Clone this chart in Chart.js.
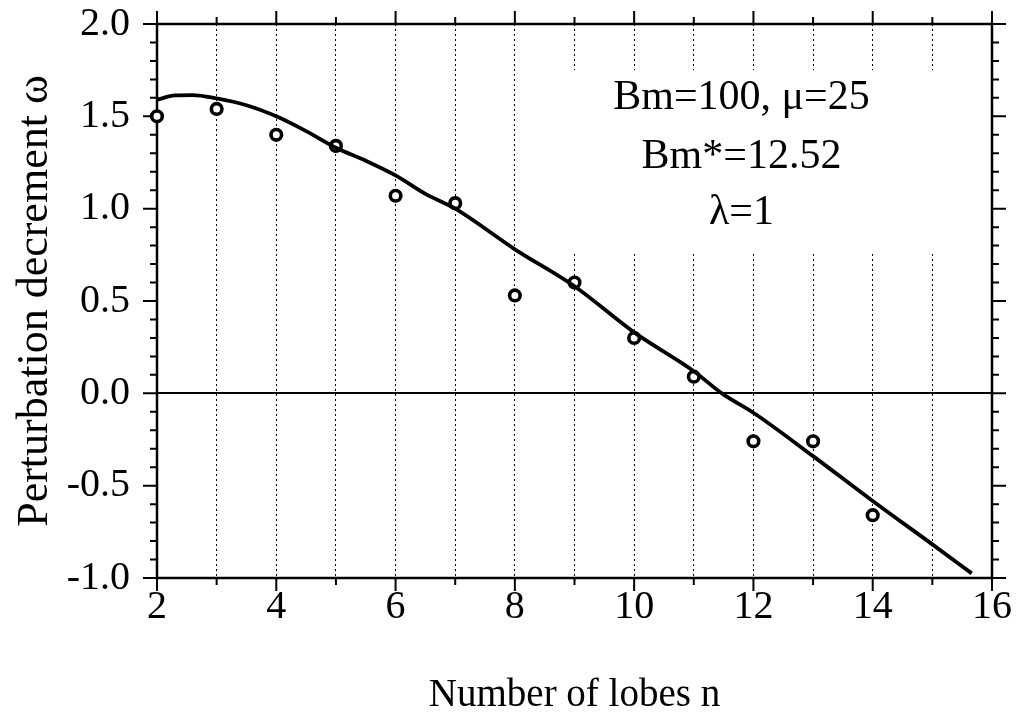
<!DOCTYPE html>
<html>
<head>
<meta charset="utf-8">
<script src="https://cdn.jsdelivr.net/npm/chart.js@4/dist/chart.umd.min.js"></script>
<style>
  body { margin: 0; background: #fff; }
  #wrap { width: 1022px; height: 725px; }
</style>
</head>
<body>
<div id="wrap"><canvas id="omega-chart"></canvas></div>
<script>
// computed points (circles)
const lobes = [2, 3, 4, 5, 6, 7, 8, 9, 10, 11, 12, 13, 14];
const omegaPoints = [1.50, 1.54, 1.40, 1.34, 1.07, 1.03, 0.53, 0.60, 0.30, 0.09, -0.26, -0.26, -0.66];

// theoretical curve
const curveN = [2, 2.3, 2.6, 3, 3.5, 4, 4.5, 5, 5.5, 6, 6.5, 7, 8, 9, 10, 11, 11.47, 12, 13, 14, 15, 15.66];
const curveOmega = [1.59, 1.613, 1.615, 1.597, 1.56, 1.50, 1.42, 1.33, 1.26, 1.18, 1.08, 1.00, 0.78, 0.58, 0.33, 0.12, 0.0, -0.105, -0.34, -0.583, -0.818, -0.975];

const noteLines = ["Bm=100, \u03bc=25", "Bm*=12.52", "\u03bb=1"];

const serif = '"Liberation Serif", "Times New Roman", serif';

// where the parameter text sits, in axis units
const note = { x: 11.8, baselines: [1.538, 1.218, 0.915], box: [8.9, 15.1, 1.75, 0.76] };

const ctx = document.getElementById("omega-chart").getContext("2d");

// white panel + parameter text, drawn over the dotted grid
const noteBox = {
  id: "noteBox",
  beforeDatasetsDraw(chart) {
    const { ctx, scales: { x, y } } = chart;
    const [n0, n1, w0, w1] = note.box;
    const l = x.getPixelForValue(n0), r = x.getPixelForValue(n1);
    const t = y.getPixelForValue(w0), b = y.getPixelForValue(w1);
    ctx.save();
    ctx.fillStyle = "#fff";
    ctx.fillRect(l, t, r - l, b - t);
    ctx.fillStyle = "#000";
    ctx.font = "42px " + serif;
    ctx.textAlign = "center";
    ctx.textBaseline = "alphabetic";
    noteLines.forEach((s, i) => {
      ctx.fillText(s, x.getPixelForValue(note.x), y.getPixelForValue(note.baselines[i]));
    });
    ctx.restore();
  }
};

// box frame with outward tick marks on all four sides
const frameTicks = {
  id: "frameTicks",
  beforeDatasetsDraw(chart) {
    const { ctx, chartArea: a, scales: { x, y } } = chart;
    ctx.save();
    ctx.strokeStyle = "#000";
    ctx.lineWidth = 2.5;
    ctx.strokeRect(a.left, a.top, a.right - a.left, a.bottom - a.top);

    ctx.lineWidth = 2;
    ctx.beginPath();
    for (let n = x.min; n <= x.max; n++) {
      const px = x.getPixelForValue(n);
      const len = n % 2 === 0 ? 13 : 7;
      ctx.moveTo(px, a.bottom); ctx.lineTo(px, a.bottom + len);
      ctx.moveTo(px, a.top); ctx.lineTo(px, a.top - len);
    }
    const steps = Math.round((y.max - y.min) * 10);
    for (let i = 0; i <= steps; i++) {
      const py = y.getPixelForValue(y.min + i / 10);
      const len = i % 5 === 0 ? 14 : 7;
      ctx.moveTo(a.left, py); ctx.lineTo(a.left - len, py);
      ctx.moveTo(a.right, py); ctx.lineTo(a.right + len, py);
    }
    ctx.stroke();
    ctx.restore();
  }
};

const data = {
  datasets: [
    {
      label: "theory",
      data: curveN.map((n, i) => ({ x: n, y: curveOmega[i] })),
      showLine: true,
      borderColor: "#000",
      borderWidth: 3.8,
      pointRadius: 0,
      cubicInterpolationMode: "monotone",
      clip: false
    },
    {
      label: "computed",
      data: lobes.map((n, i) => ({ x: n, y: omegaPoints[i] })),
      showLine: false,
      pointStyle: "circle",
      pointRadius: 5.3,
      pointBorderWidth: 3.6,
      pointBorderColor: "#000",
      pointBackgroundColor: "#fff",
      clip: false
    }
  ]
};

const config = {
  type: "scatter",
  data: data,
  options: {
    responsive: true,
    maintainAspectRatio: false,
    animation: false,
    events: [],
    layout: { padding: { top: 24, right: 30, left: 0, bottom: 0 } },
    plugins: {
      legend: { display: false },
      tooltip: { enabled: false }
    },
    scales: {
      x: {
        type: "linear",
        min: 2,
        max: 16,
        afterFit: (scale) => { scale.height = 147; },
        title: {
          display: true,
          text: "Number of lobes n",
          color: "#000",
          font: { family: serif, size: 39, lineHeight: 1.2 },
          padding: { top: 0, bottom: 6 }
        },
        grid: {
          color: (c) => (c.tick.value === 2 || c.tick.value === 16 ? "transparent" : "#000"),
          lineWidth: 1,
          drawTicks: false
        },
        border: { display: false, dash: [2, 3] },
        ticks: {
          stepSize: 1,
          color: "#000",
          padding: 5,
          maxRotation: 0,
          autoSkip: false,
          font: { family: serif, size: 40, lineHeight: 1.2 },
          callback: (v) => (v % 2 === 0 ? String(v) : "")
        }
      },
      y: {
        min: -1,
        max: 2,
        afterFit: (scale) => {
          scale.width = 157;
          // keep the half-label overhang from pushing the plot down
          scale.paddingTop = 0;
          scale.paddingBottom = 0;
        },
        title: {
          display: true,
          text: "Perturbation decrement \u03c9",
          color: "#000",
          font: { family: serif, size: 44, lineHeight: 1.2 },
          padding: { top: 9, bottom: 0 }
        },
        grid: {
          color: (c) => (c.tick.value === 0 ? "#000" : "transparent"),
          lineWidth: 2,
          drawTicks: false
        },
        border: { display: false },
        ticks: {
          stepSize: 0.5,
          color: "#000",
          padding: 27,
          font: { family: serif, size: 40, lineHeight: 1.0 },
          callback: (v) => v.toFixed(1)
        }
      }
    }
  },
  plugins: [noteBox, frameTicks]
};

const omega_chart = new Chart(ctx, config);
</script>
</body>
</html>
